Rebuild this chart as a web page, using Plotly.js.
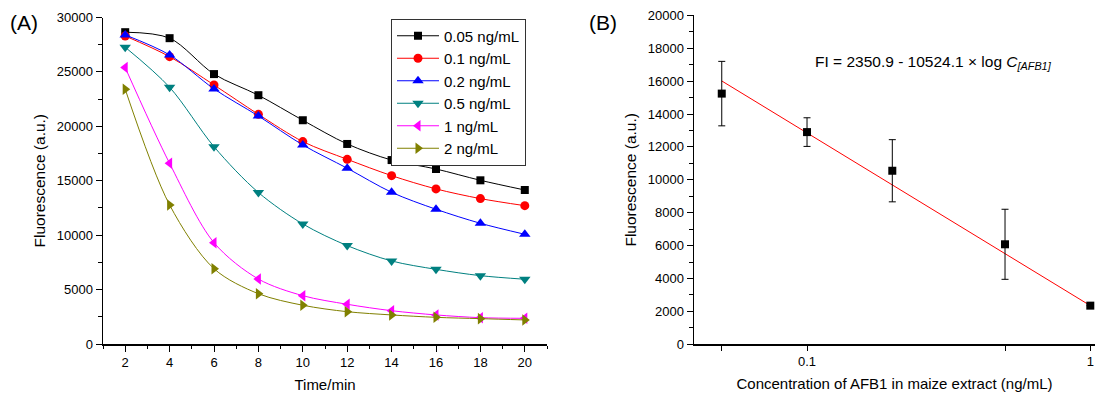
<!DOCTYPE html>
<html>
<head>
<meta charset="utf-8">
<script src="https://cdn.plot.ly/plotly-3.0.1.min.js"></script>
<style>html,body{margin:0;padding:0;background:#fff;}#chart{width:1095px;height:398px;}</style>
</head>
<body>
<div id="chart"></div>
<script>
// Panel A: fluorescence vs time
const timeMin = [2, 4, 6, 8, 10, 12, 14, 16, 18, 20];
const seriesNames = ['0.05 ng/mL', '0.1 ng/mL', '0.2 ng/mL', '0.5 ng/mL', '1 ng/mL', '2 ng/mL'];
const fl005 = [28650, 28100, 24800, 22860, 20560, 18380, 16900, 16080, 15040, 14150];
const fl01  = [28300, 26400, 23800, 21100, 18600, 16970, 15470, 14250, 13360, 12710];
const fl02  = [28400, 26560, 23440, 20950, 18290, 16150, 13940, 12380, 11090, 10080];
const fl05  = [27270, 23590, 18130, 13920, 11030, 9040, 7630, 6860, 6280, 5950];
const fl1   = [25400, 16600, 9310, 5970, 4440, 3650, 3060, 2670, 2420, 2360];
const fl2   = [23410, 12780, 6920, 4620, 3560, 2970, 2670, 2450, 2330, 2210];

// Panel B: calibration
const concAFB1 = [0.05, 0.1, 0.2, 0.5, 1];
const flB      = [15240, 12900, 10550, 6080, 2350];
const flBErr   = [1960, 870, 1890, 2130, 0];
const fitConc  = [0.05, 1];
const fitFl    = [16010, 2350];

const FONT = 'Arial, "Liberation Sans", sans-serif';
const colors = ['#000000', '#FF0000', '#0000FF', '#008080', '#FF00FF', '#808000'];
const symbols = ['square', 'circle', 'triangle-up', 'triangle-down', 'triangle-left', 'triangle-right'];
const sizes = [8, 9, 10, 10, 10, 10];
const ys = [fl005, fl01, fl02, fl05, fl1, fl2];

const traces = ys.map((y, i) => ({
  type: 'scatter', mode: 'lines+markers', x: timeMin, y: y, name: seriesNames[i],
  xaxis: 'x', yaxis: 'y',
  line: {color: colors[i], width: 1, shape: 'spline', smoothing: 0.9},
  marker: {color: colors[i], symbol: symbols[i], size: sizes[i], line: {width: 0}},
  cliponaxis: false
}));

traces.push({
  type: 'scatter', mode: 'lines', x: fitConc, y: fitFl, xaxis: 'x2', yaxis: 'y2',
  line: {color: '#FF0000', width: 1}, showlegend: false, cliponaxis: false
});
traces.push({
  type: 'scatter', mode: 'markers', x: concAFB1, y: flB, xaxis: 'x2', yaxis: 'y2',
  marker: {color: '#000000', symbol: 'square', size: 8},
  error_y: {type: 'data', array: flBErr, visible: true, color: '#000000', thickness: 1, width: 3.5},
  showlegend: false, cliponaxis: false
});

const axBase = {
  showgrid: false, zeroline: false, showline: true, linecolor: '#000', linewidth: 1.5,
  ticks: 'outside', tickcolor: '#000', tickwidth: 1, ticklen: 6,
  tickfont: {family: FONT, size: 13, color: '#000'}, automargin: false, mirror: false
};

const layout = {
  width: 1095, height: 398,
  margin: {l: 0, r: 0, t: 0, b: 0},
  paper_bgcolor: '#fff', plot_bgcolor: 'rgba(0,0,0,0)',
  font: {family: FONT, color: '#000'},
  showlegend: true,
  legend: {
    x: 391/1095, y: 1 - 18.5/398, xanchor: 'left', yanchor: 'top',
    bordercolor: '#333', borderwidth: 1, bgcolor: '#fff', itemwidth: 42,
    font: {family: FONT, size: 15, color: '#000'}, tracegroupgap: 0
  },
  xaxis: Object.assign({}, axBase, {
    domain: [103/1095, 547/1095], range: [1, 21], tickmode: 'linear', tick0: 2, dtick: 2,
    minor: {ticks: 'outside', ticklen: 3.5, tickwidth: 1, tickcolor: '#000', tick0: 1, dtick: 1},
    anchor: 'y',
    title: {text: 'Time/min', font: {family: FONT, size: 15, color: '#000'}, standoff: 10}
  }),
  yaxis: Object.assign({}, axBase, {
    domain: [(398-344)/398, (398-17.5)/398], range: [0, 30000], tickmode: 'linear', tick0: 0, dtick: 5000,
    tickformat: 'd', exponentformat: 'none',
    minor: {ticks: 'outside', ticklen: 3.5, tickwidth: 1, tickcolor: '#000', dtick: 2500},
    anchor: 'x',
    title: {text: 'Fluorescence (a.u.)', font: {family: FONT, size: 15.5, color: '#000'}, standoff: 7}
  }),
  xaxis2: Object.assign({}, axBase, {
    domain: [694/1095, 1], type: 'log', range: [-1.399, 0.0166],
    tickmode: 'array', tickvals: [0.05, 0.1, 0.5, 1], ticktext: ['', '0.1', '', '1'],
    ticklen: 5, anchor: 'y2',
    title: {text: 'Concentration of AFB1 in maize extract (ng/mL)', font: {family: FONT, size: 15, color: '#000'}, standoff: 10}
  }),
  yaxis2: Object.assign({}, axBase, {
    domain: [(398-344.3)/398, (398-15.3)/398], range: [0, 20000], tickmode: 'linear', tick0: 0, dtick: 2000,
    tickformat: 'd', exponentformat: 'none',
    minor: {ticks: 'outside', ticklen: 3.5, tickwidth: 1, tickcolor: '#000', dtick: 1000},
    anchor: 'x2',
    title: {text: 'Fluorescence (a.u.)', font: {family: FONT, size: 15.5, color: '#000'}, standoff: 7}
  }),
  annotations: [
    {text: '(A)', xref: 'paper', yref: 'paper', x: 8/1095, y: 1 - 23/398, xanchor: 'left', yanchor: 'middle',
     showarrow: false, font: {family: FONT, size: 21, color: '#000'}},
    {text: '(B)', xref: 'paper', yref: 'paper', x: 587/1095, y: 1 - 23/398, xanchor: 'left', yanchor: 'middle',
     showarrow: false, font: {family: FONT, size: 21, color: '#000'}},
    {text: 'FI = 2350.9 - 10524.1 × log <i>C</i><sub><i>[AFB1]</i></sub>', xref: 'paper', yref: 'paper',
     x: 813/1095, y: 1 - 62/398, xanchor: 'left', yanchor: 'middle',
     showarrow: false, font: {family: FONT, size: 15.5, color: '#000'}}
  ]
};

Plotly.newPlot('chart', traces, layout, {staticPlot: true, displayModeBar: false});
</script>
</body>
</html>
